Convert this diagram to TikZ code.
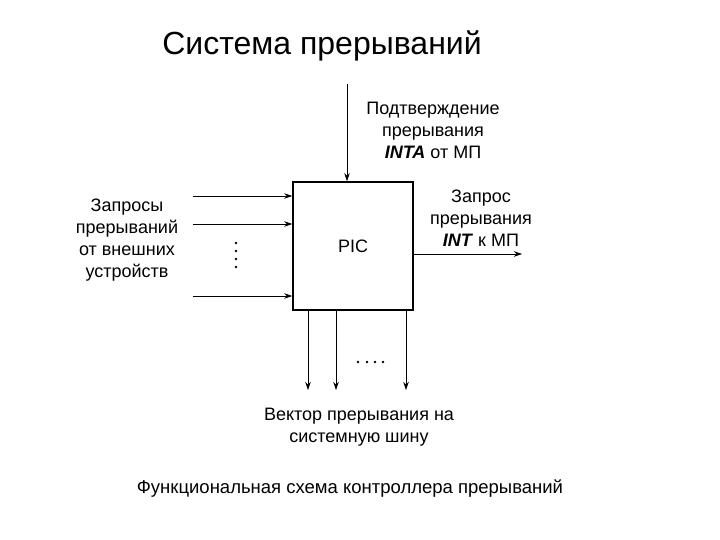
\documentclass[tikz,border=0pt]{standalone}
\usepackage{fontspec}
\setmainfont{Liberation Sans}
\usetikzlibrary{positioning, calc, arrows.meta}

\begin{document}
\begin{tikzpicture}[
    x=1pt, y=-1pt,
    >={Stealth[length=8pt,width=5.5pt]},
    line width=0.6pt,
    block/.style={
        draw,
        line width=1.6pt,
        minimum width=120pt,
        minimum height=128pt,
        inner sep=0pt,
        font=\fontsize{18}{21}\selectfont
    },
    label/.style={
        align=center,
        inner sep=0pt,
        font=\fontsize{18}{22}\selectfont
    },
    title/.style={font=\fontsize{32}{36}\selectfont, inner sep=0pt},
    caption/.style={font=\fontsize{18.5}{22}\selectfont, inner sep=0pt},
    dot/.style={fill, circle, inner sep=0pt, minimum size=2.6pt}
]
\useasboundingbox (0,0) rectangle (720,540);

% Title
\node[title] (T) at (322,46) {Система прерываний};

% Controller block
\node[block] (PIC) at (353,246) {PIC};

% Inputs
\coordinate (A) at (347,84);
\coordinate (I1) at (193,196);
\coordinate (I2) at (193,224);
\coordinate (I3) at (193,296);

% Outputs
\coordinate (R) at (522,254);
\coordinate (V1) at (308,390);
\coordinate (V2) at (336,390);
\coordinate (V3) at (406,390);

% Labels
\node[label] (Ack) at (433,130) {Подтверждение\\прерывания\\\textbf{\textit{INTA}} от МП};
\node[label] (Req) at (481,218) {Запрос\\прерывания\\\textbf{\textit{INT}} к МП};
\node[label] (Ext) at (127,240) {Запросы\\прерываний\\от внешних\\устройств};
\node[label] (Vec) at (359,427) {Вектор прерывания на\\системную шину};

% Caption
\node[caption] (C) at (350,489) {Функциональная схема контроллера прерываний};

% Edges
\draw[->] (A) -- (A |- PIC.north);
\draw[->] (I1) -- (I1 -| PIC.west);
\draw[->] (I2) -- (I2 -| PIC.west);
\draw[->] (I3) -- (I3 -| PIC.west);
\draw[->] (R -| PIC.east) -- (R);
\draw[->] (V1 |- PIC.south) -- (V1);
\draw[->] (V2 |- PIC.south) -- (V2);
\draw[->] (V3 |- PIC.south) -- (V3);

% Dots
\foreach \y in {243,251,259,267}
    \node[dot] at (236,\y) {};
\foreach \x in {358,367,375,383}
    \node[dot] at (\x,362) {};

\end{tikzpicture}
\end{document}
